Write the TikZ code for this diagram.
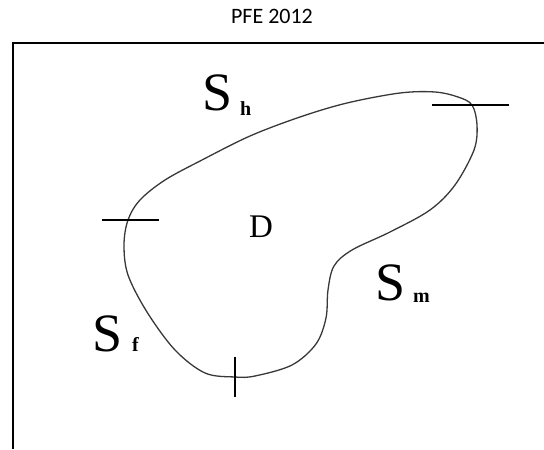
\documentclass[tikz,border=0pt]{standalone}
\usepackage{fontspec}
\setmainfont{Liberation Serif}
\newfontfamily\titlefont{Carlito}
\begin{document}
\begin{tikzpicture}[x=1pt,y=-1pt,
  frame/.style={line width=2.4pt,black},
  boundary/.style={line width=1.3pt,black!78},
  tick/.style={line width=1.3pt,black},
  bigS/.style={inner sep=0pt,anchor=base west,font=\fontsize{54}{54}\selectfont},
  sub/.style={inner sep=0pt,anchor=base west,font=\bfseries\fontsize{20}{20}\selectfont}]
\useasboundingbox (0,0) rectangle (544,450);
\node[font=\titlefont\fontsize{22}{26}\selectfont,anchor=base] (title) at (272,23) {PFE 2012};
\coordinate (ftop) at (544,43);
\coordinate (fcorner) at (13,43);
\coordinate (fbottom) at (13,449);
\draw[frame] (ftop) -- (fcorner) -- (fbottom);
\draw[boundary] plot[smooth cycle,tension=0.55] coordinates {
 (472,105) (477,125) (474,150) (455,185) (430,210) (390,232) (352,250) (334,266)
 (328,290) (326,318) (316,344) (292,365) (255,376) (235,377) (205,373)
 (175,350) (147,312) (128,275) (124,245) (128,220) (140,200) (165,180)
 (202,160) (250,136) (300,117) (347,103) (400,93) (435,92) (458,97)};
\coordinate (t1a) at (432,105); \coordinate (t1b) at (509,105);
\coordinate (t2a) at (102,220); \coordinate (t2b) at (159,220);
\coordinate (t3a) at (235,357); \coordinate (t3b) at (235,397);
\draw[tick] (t1a) -- (t1b);
\draw[tick] (t2a) -- (t2b);
\draw[tick] (t3a) -- (t3b);
\node[bigS] (Sh) at (202,110) {S};
\node[sub] (h) at (240,115) {h};
\node[bigS] (Sm) at (375,300) {S};
\node[sub] (m) at (413,302) {m};
\node[bigS] (Sf) at (92,351) {S};
\node[sub] (f) at (132,351) {f};
\node[inner sep=0pt,anchor=base west,font=\fontsize{33}{33}\selectfont] (D) at (249,237) {D};
\end{tikzpicture}
\end{document}
